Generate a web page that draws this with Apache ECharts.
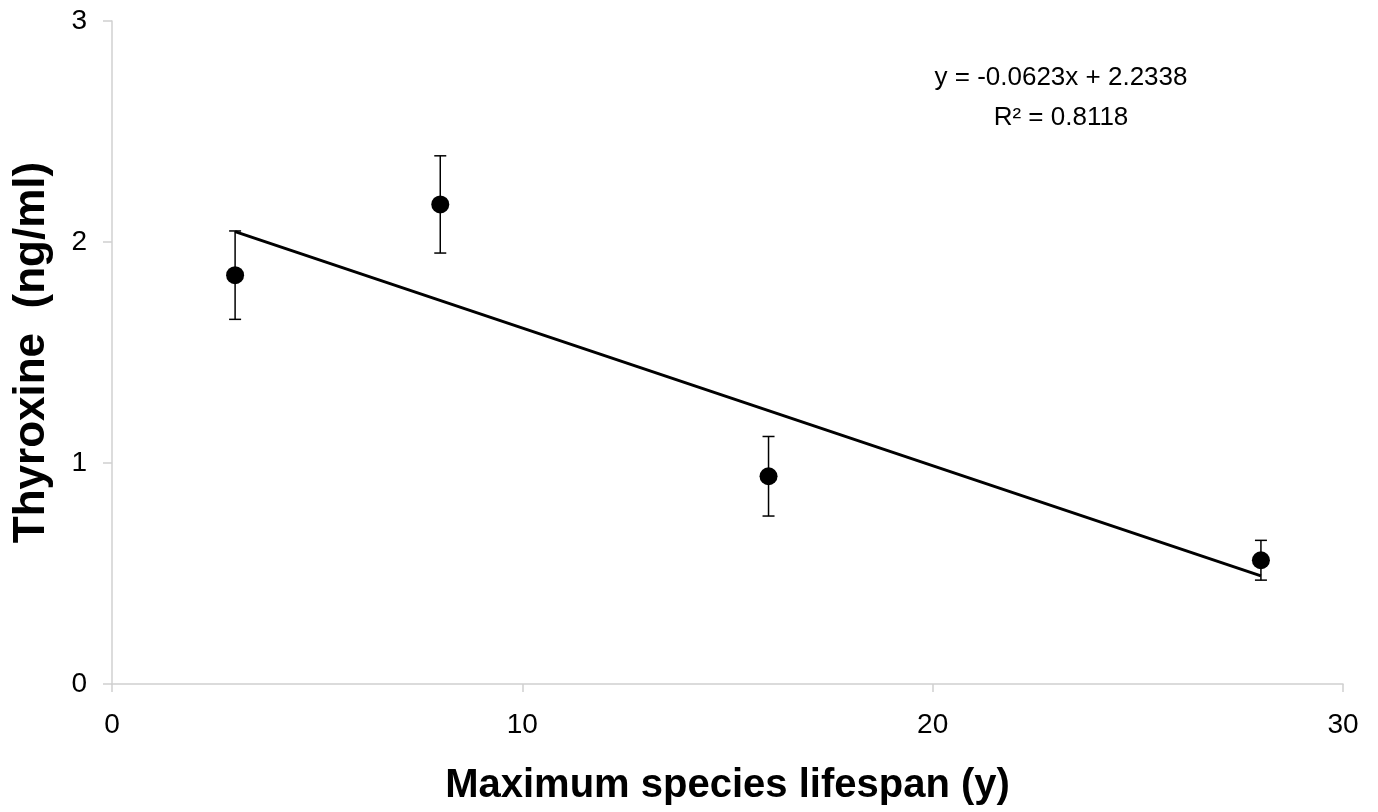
<!DOCTYPE html>
<html>
<head>
<meta charset="utf-8"/>
<title>Thyroxine vs lifespan</title>
<script src="https://cdn.jsdelivr.net/npm/echarts@6/dist/echarts.min.js"></script>
<style>
  html, body { margin: 0; padding: 0; background: #fff; }
  #chart { width: 1378px; height: 812px; }
</style>
</head>
<body>
<div id="chart"></div>
<script>
// data
var lifespan = [3, 8, 16, 28];
var thyroxine = [1.85, 2.17, 0.94, 0.56];
var errUp = [0.20, 0.22, 0.18, 0.09];
var errDown = [0.20, 0.22, 0.18, 0.09];
// trend line end points (as drawn)
var trendX = [3, 28];
var trendY = [2.047, 0.489];
var eqLine1 = 'y = -0.0623x + 2.2338';
var eqLine2 = 'R² = 0.8118';

var points = [], bars = [], trend = [];
for (var i = 0; i < lifespan.length; i++) {
  points.push([lifespan[i], thyroxine[i]]);
  bars.push([lifespan[i], thyroxine[i] - errDown[i], thyroxine[i] + errUp[i]]);
}
for (var j = 0; j < trendX.length; j++) {
  trend.push([trendX[j], trendY[j]]);
}

var myChart = echarts.init(document.getElementById('chart'));
var axisGray = '#d0d0d0';
var font = 'Liberation Sans, Arial, sans-serif';

myChart.setOption({
  animation: false,
  textStyle: { fontFamily: font },
  grid: { left: 112, right: 35, top: 21, bottom: 128, outerBoundsMode: 'none', containLabel: false },
  xAxis: {
    type: 'value',
    min: 0, max: 30, interval: 10,
    name: 'Maximum species lifespan (y)',
    nameLocation: 'middle',
    nameGap: 82,
    nameTextStyle: { fontSize: 40, fontWeight: 'bold', color: '#000', fontFamily: font },
    axisLine: { show: true, lineStyle: { color: axisGray, width: 1.5 } },
    axisTick: { show: true, length: 8, lineStyle: { color: axisGray, width: 1.5 } },
    axisLabel: { fontSize: 28, color: '#000', margin: 27, fontFamily: font },
    splitLine: { show: false }
  },
  yAxis: {
    type: 'value',
    min: 0, max: 3, interval: 1,
    name: 'Thyroxine  (ng/ml)',
    nameLocation: 'middle',
    nameGap: 58,
    nameTextStyle: { fontSize: 44, fontWeight: 'bold', color: '#000', fontFamily: font },
    axisLine: { show: true, lineStyle: { color: axisGray, width: 1.5 } },
    axisTick: { show: true, length: 9, lineStyle: { color: axisGray, width: 1.5 } },
    axisLabel: { fontSize: 28, color: '#000', margin: 25, fontFamily: font },
    splitLine: { show: false }
  },
  graphic: [{
    type: 'text',
    position: [1061, 58],
    style: {
      text: eqLine1 + '\n' + eqLine2,
      fill: '#000',
      font: '26px ' + font,
      textAlign: 'center',
      lineHeight: 40
    }
  }],
  series: [
    {
      type: 'line',
      data: trend,
      symbol: 'none',
      lineStyle: { color: '#000', width: 3 },
      z: 2
    },
    {
      type: 'custom',
      data: bars,
      z: 3,
      renderItem: function (params, api) {
        var x = api.value(0);
        var lo = api.coord([x, api.value(1)]);
        var hi = api.coord([x, api.value(2)]);
        var w = 6;
        var st = { stroke: '#000', lineWidth: 1.5 };
        return {
          type: 'group',
          children: [
            { type: 'line', shape: { x1: lo[0], y1: lo[1], x2: hi[0], y2: hi[1] }, style: st },
            { type: 'line', shape: { x1: lo[0] - w, y1: lo[1], x2: lo[0] + w, y2: lo[1] }, style: st },
            { type: 'line', shape: { x1: hi[0] - w, y1: hi[1], x2: hi[0] + w, y2: hi[1] }, style: st }
          ]
        };
      }
    },
    {
      type: 'scatter',
      data: points,
      symbol: 'circle',
      symbolSize: 18,
      itemStyle: { color: '#000', opacity: 1 },
      z: 4
    }
  ]
});
</script>
</body>
</html>
